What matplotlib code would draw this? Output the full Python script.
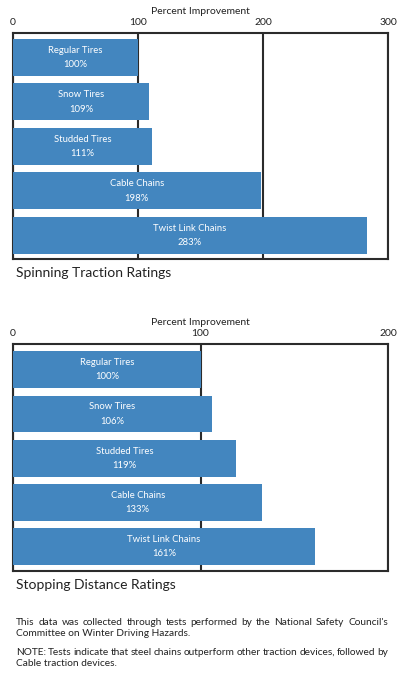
import matplotlib
matplotlib.use("Agg")
import matplotlib.pyplot as plt

plt.rcParams['font.family'] = ['Lato', 'DejaVu Sans']

BAR_COLOR = '#4386bf'
LINE_COLOR = '#2b2b2b'
TEXT_COLOR = '#222222'

categories = ['Regular Tires', 'Snow Tires', 'Studded Tires', 'Cable Chains', 'Twist Link Chains']
spinning = [100, 109, 111, 198, 283]
stopping = [100, 106, 119, 133, 161]
spinning_ticks = [0, 100, 200, 300]
stopping_ticks = [0, 100, 200]

# each note: (justified first line, last line)
notes = [
    ("This data was collected through tests performed by the National Safety Council's",
     "Committee on Winter Driving Hazards."),
    ("NOTE: Tests indicate that steel chains outperform other traction devices, followed by",
     "Cable traction devices."),
]
note_baseline = [625, 655]

W, H = 400, 693
fig = plt.figure(figsize=(W / 100, H / 100), dpi=100)


def draw_panel(rect, values, ticks, ylim, title, title_y):
    ax = fig.add_axes(rect)
    y = list(range(len(categories)))
    ax.barh(y, values, height=0.83, color=BAR_COLOR, zorder=3)
    for yi, cat, v in zip(y, categories, values):
        ax.text(v / 2, yi, f"{cat}\n{v}%", ha='center', va='center',
                color='white', fontsize=6.8, linespacing=1.75, zorder=4)
    ax.set_xlim(ticks[0], ticks[-1])
    ax.set_ylim(*ylim)
    ax.set_yticks([])
    ax.set_xticks(ticks)
    ax.xaxis.tick_top()
    ax.xaxis.set_label_position('top')
    ax.tick_params(axis='x', length=0, pad=4, labelsize=7.5, colors=TEXT_COLOR)
    ax.set_xlabel('Percent Improvement', fontsize=7.5, labelpad=3, color=TEXT_COLOR)
    ax.grid(axis='x', color=LINE_COLOR, linewidth=1.5, zorder=1)
    for s in ax.spines.values():
        s.set_color(LINE_COLOR)
        s.set_linewidth(1.5)
    fig.text(16 / W, 1 - title_y / H, title, fontsize=10,
             color=TEXT_COLOR, va='center', ha='left')
    return ax


draw_panel([13 / W, 1 - 259 / H, 375 / W, 226 / H], spinning,
           spinning_ticks, (4.53, -0.55), 'Spinning Traction Ratings', 273)
draw_panel([13 / W, 1 - 571 / H, 375 / W, 227 / H], stopping,
           stopping_ticks, (4.55, -0.58), 'Stopping Distance Ratings', 585)

# notes: first line justified between x=16 and x=388, second line left aligned
renderer = fig.canvas.get_renderer()
left, right = 16, 388
fs = 7.3
for (first, last), yb in zip(notes, note_baseline):
    words = first.split()
    arts = [fig.text(0, 1 - yb / H, w, fontsize=fs, color=TEXT_COLOR,
                     va='baseline', ha='left') for w in words]
    widths = [a.get_window_extent(renderer).width for a in arts]
    gap = (right - left - sum(widths)) / (len(words) - 1)
    x = left
    for a, w in zip(arts, widths):
        a.set_x(x / W)
        x += w + gap
    fig.text(left / W, 1 - (yb + 11.5) / H, last, fontsize=fs, color=TEXT_COLOR,
             va='baseline', ha='left')

fig.savefig('out.png', dpi=100, facecolor='white')
